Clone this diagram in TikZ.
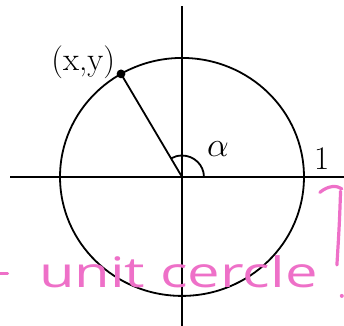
\documentclass[tikz,border=0pt]{standalone}
\usepackage{fontspec}
\newfontfamily\handfont{Open Sans}
\definecolor{inkpink}{RGB}{238,112,200}
\begin{document}
\begin{tikzpicture}[x=61pt, y=59.5pt, line width=0.9pt,
  lbl/.style={font=\fontsize{16.5}{18}\selectfont},
  note/.style={inkpink, line width=1.6pt, line cap=round}]
  \useasboundingbox (-1.492,-1.252) rectangle (1.328,1.487);
  \draw (-1.41,0) -- (1.33,0);
  \draw (0,-1.26) -- (0,1.44);
  \draw (0,0) circle (1);
  \coordinate (O) at (0,0);
  \coordinate (P) at (120:1);
  \draw (O) -- (P);
  \fill (P) circle (2.2pt);
  \draw (0.18,0) arc (0:120:0.18);
  \node[lbl] (xy) at (-0.81,0.965) {(x,y)};
  \node[lbl] (alpha) at (0.295,0.23) {$\alpha$};
  \node[lbl] (one) at (1.145,0.15) {1};
  % pink handwriting
  \node[inkpink, font=\handfont\fontsize{21}{24}\selectfont, xscale=1.38] (note) at (-0.03,-0.80) {unit cercle};
  \draw[note] (-1.49,-0.81) -- (-1.43,-0.81);
  \draw[note] (1.13,-0.13) .. controls (1.2,-0.07) and (1.27,-0.07) .. (1.31,-0.1);
  \draw[note] (1.3,-0.12) .. controls (1.29,-0.4) .. (1.27,-0.74);
  \fill[inkpink] (1.31,-1.0) circle (1pt);
\end{tikzpicture}
\end{document}
